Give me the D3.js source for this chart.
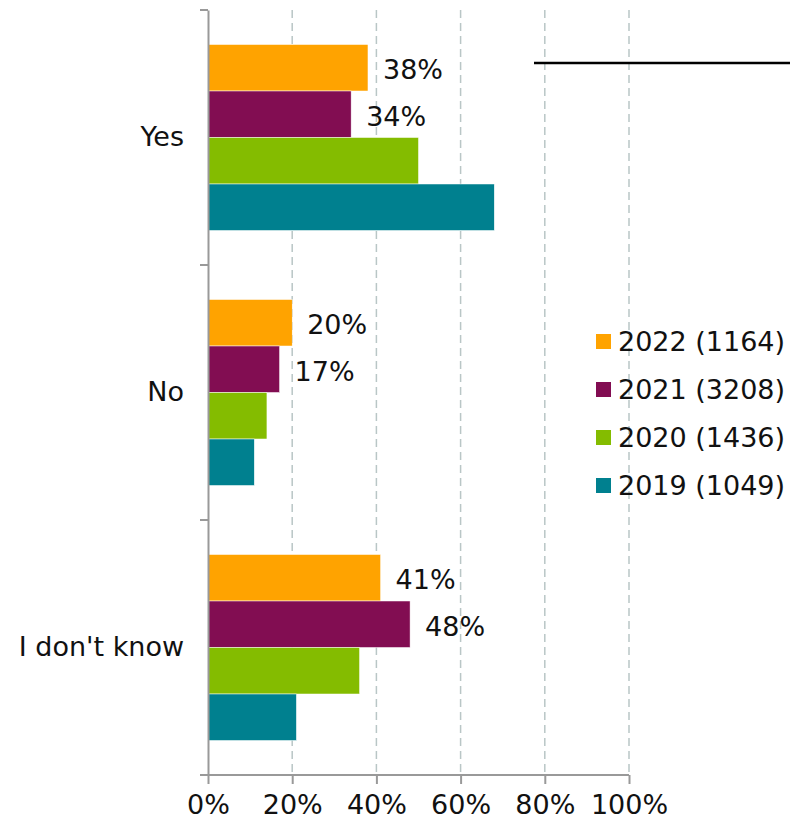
<!DOCTYPE html>
<html>
<head>
<meta charset="utf-8">
<script src="https://cdn.jsdelivr.net/npm/d3@7"></script>
<style>
  html, body { margin: 0; padding: 0; background: #fff; }
  svg text { font-family: "DejaVu Sans", Verdana, sans-serif; fill: #111; }
</style>
</head>
<body>
<svg id="chart" width="790" height="824"></svg>
<script>
// Answers and survey years
const categories = ["Yes", "No", "I don't know"];
const series = ["2022 (1164)", "2021 (3208)", "2020 (1436)", "2019 (1049)"];
const colors = ["#FFA300", "#820D52", "#84BC00", "#00808F"];
// Percentages per year, in category order
const values2022 = [38, 20, 41];
const values2021 = [34, 17, 48];
const values2020 = [50, 14, 36];
const values2019 = [68, 11, 21];
const seriesValues = [values2022, values2021, values2020, values2019];
// Only the two most recent years carry value labels
const labelledSeries = [true, true, false, false];
const xTicks = [0, 20, 40, 60, 80, 100];

const fontSize = 27;
const svg = d3.select("#chart");
const plotLeft = 208, plotRight = 629, plotTop = 10, plotBottom = 775;

const x = d3.scaleLinear().domain([0, 100]).range([plotLeft, plotRight]);
const y = d3.scaleBand().domain(categories).range([plotTop, plotBottom]).padding(0);
const yInner = d3.scaleBand().domain(d3.range(series.length))
  .range([0, y.bandwidth()]).paddingInner(0).paddingOuter(0.742);

// Dashed vertical gridlines
svg.append("g").selectAll("line")
  .data(xTicks.filter(t => t > 0))
  .join("line")
  .attr("x1", d => x(d)).attr("x2", d => x(d))
  .attr("y1", plotTop).attr("y2", plotBottom)
  .attr("stroke", "#b9c6c6").attr("stroke-width", 1.5)
  .attr("stroke-dasharray", "8,5");

// Bars
const groups = svg.append("g").selectAll("g")
  .data(categories)
  .join("g")
  .attr("transform", d => `translate(0,${y(d)})`);

groups.selectAll("rect")
  .data((c, ci) => seriesValues.map((vals, si) => ({ si, v: vals[ci] })))
  .join("rect")
  .attr("x", x(0))
  .attr("y", d => yInner(d.si))
  .attr("width", d => x(d.v) - x(0))
  .attr("height", yInner.bandwidth())
  .attr("fill", d => colors[d.si])
  .attr("stroke", "#fff").attr("stroke-width", 0.5);

groups.selectAll("text.val")
  .data((c, ci) => seriesValues.map((vals, si) => ({ si, v: vals[ci] }))
    .filter(d => labelledSeries[d.si]))
  .join("text")
  .attr("class", "val")
  .attr("x", d => x(d.v) + 15)
  .attr("y", d => yInner(d.si) + yInner.bandwidth() / 2 + 2)
  .attr("dy", "0.36em")
  .attr("font-size", fontSize)
  .text(d => d.v + "%");

// Y axis
const yAxis = d3.axisLeft(y).tickSize(0).tickPadding(24);
const gy = svg.append("g").attr("transform", `translate(${plotLeft},0)`).call(yAxis);
gy.select(".domain").attr("stroke", "#999").attr("stroke-width", 2);
gy.selectAll("text").attr("font-size", fontSize).attr("fill", "#111");
// Category separators
svg.append("g").selectAll("line")
  .data([plotTop, ...categories.map(c => y(c) + y.bandwidth())])
  .join("line")
  .attr("x1", plotLeft - 8).attr("x2", plotLeft)
  .attr("y1", d => d).attr("y2", d => d)
  .attr("stroke", "#999").attr("stroke-width", 2);

// X axis
const xAxis = d3.axisBottom(x).tickValues(xTicks).tickSize(9).tickPadding(11)
  .tickFormat(d => d + "%");
const gx = svg.append("g").attr("transform", `translate(0,${plotBottom})`).call(xAxis);
gx.select(".domain").attr("d", `M${plotLeft - 8},0H${plotRight}`).attr("stroke", "#999").attr("stroke-width", 2);
gx.selectAll(".tick line").attr("stroke", "#999").attr("stroke-width", 2);
gx.selectAll("text").attr("font-size", fontSize).attr("fill", "#111");

// Legend
const legend = svg.append("g").attr("transform", "translate(596,341)");
const items = legend.selectAll("g").data(series).join("g")
  .attr("transform", (d, i) => `translate(0,${i * 48})`);
items.append("rect").attr("x", 0).attr("y", -7).attr("width", 15).attr("height", 15)
  .attr("fill", (d, i) => colors[i]);
items.append("text").attr("x", 22).attr("y", 0).attr("dy", "0.36em")
  .attr("font-size", fontSize).text(d => d);

// Horizontal rule at top right
svg.append("line").attr("x1", 534).attr("x2", 790).attr("y1", 63).attr("y2", 63)
  .attr("stroke", "#000").attr("stroke-width", 2.5);
</script>
</body>
</html>
